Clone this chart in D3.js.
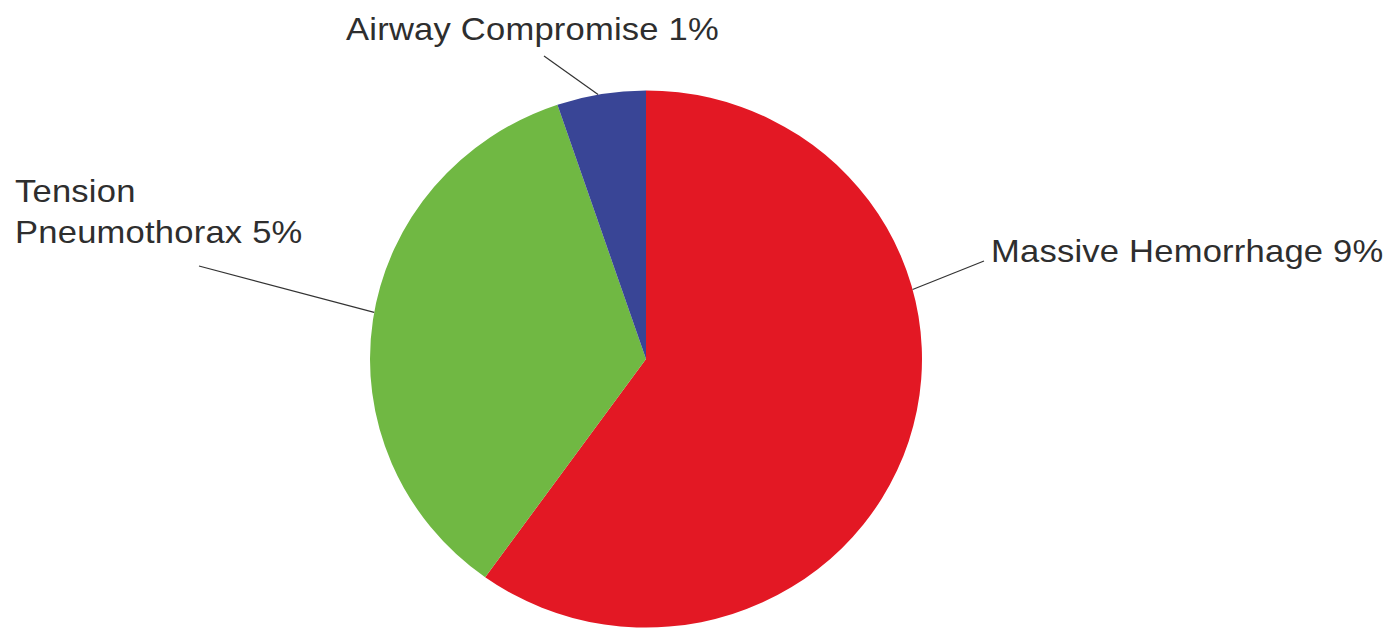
<!DOCTYPE html>
<html>
<head>
<meta charset="utf-8">
<script src="https://cdn.jsdelivr.net/npm/d3@7"></script>
<style>
  body { margin: 0; background: #fff; }
  text { font-family: "Liberation Sans", Arial, sans-serif; fill: #2e2e2e; }
</style>
</head>
<body>
<svg id="pie_chart" width="1393" height="630"></svg>
<script>
// Data
const categories = ["Massive Hemorrhage", "Tension Pneumothorax", "Airway Compromise"];
const shares = [59.9, 34.9, 5.2];          // slice sizes (% of the pie)
const labelPct = ["9%", "5%", "1%"];       // printed labels
const colors = ["#E31824", "#70B843", "#394596"];

// Layout
const width = 1393, height = 630;
const cx = 646, cy = 359, radius = 276, squash = 0.973;

// label placement: leader angle on the rim (deg), leader outer end, text lines + anchor
const labelLayout = [
  { angle: 75,  end: [984, 261], lines: ["Massive Hemorrhage 9%"], x: 991, y: 262 },
  { angle: 280, end: [199, 266], lines: ["Tension", "Pneumothorax 5%"], x: 15, y: 202 },
  { angle: 350, end: [544, 56],  lines: ["Airway Compromise 1%"], x: 346, y: 40 }
];

const svg = d3.select("#pie_chart");

const data = categories.map((c, i) => ({ name: c, value: shares[i], pct: labelPct[i] }));

const pie = d3.pie().sort(null).value(d => d.value);
const arc = d3.arc().innerRadius(0).outerRadius(radius);

const g = svg.append("g")
  .attr("transform", `translate(${cx},${cy}) scale(1,${squash})`);

g.selectAll("path")
  .data(pie(data))
  .enter().append("path")
  .attr("d", arc)
  .attr("fill", (d, i) => colors[i]);

// leader lines
labelLayout.forEach(l => {
  const a = l.angle * Math.PI / 180;
  const x0 = cx + radius * Math.sin(a);
  const y0 = cy - radius * squash * Math.cos(a);
  svg.append("line")
    .attr("x1", x0).attr("y1", y0)
    .attr("x2", l.end[0]).attr("y2", l.end[1])
    .attr("stroke", "#333")
    .attr("stroke-width", 1.2);
});

// labels (glyphs in the picture are a little wider than Arial, so stretch horizontally)
labelLayout.forEach(l => {
  const t = svg.append("text")
    .attr("transform", `translate(${l.x},${l.y}) scale(1.08,1)`)
    .style("font-size", "32px")
    .style("letter-spacing", "0.2px");
  l.lines.forEach((s, i) => {
    t.append("tspan")
      .attr("x", 0)
      .attr("dy", i === 0 ? 0 : 41)
      .text(s);
  });
});
</script>
</body>
</html>
